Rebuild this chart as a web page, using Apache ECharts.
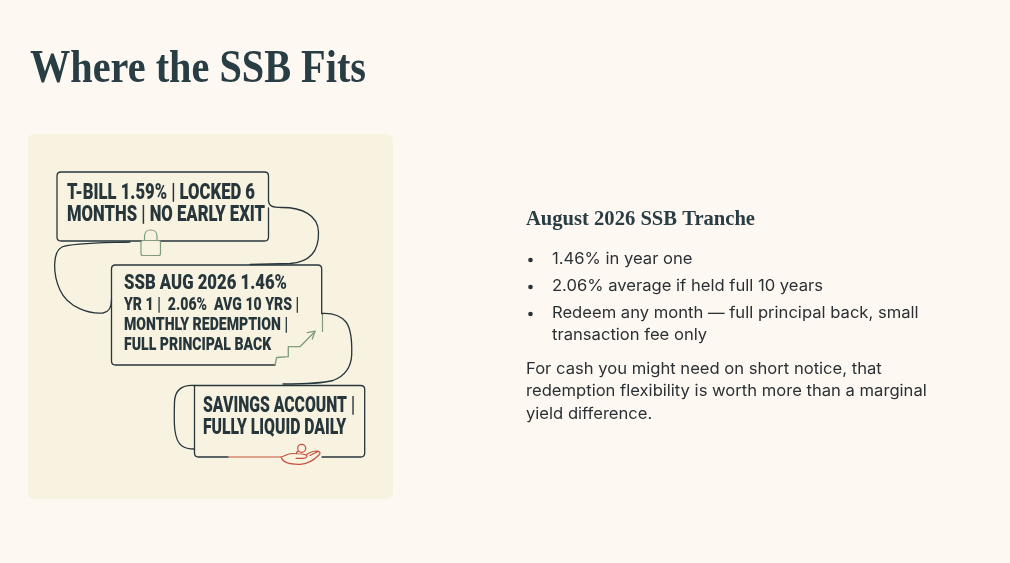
<!DOCTYPE html>
<html>
<head>
<meta charset="utf-8">
<script src="https://cdn.jsdelivr.net/npm/echarts@6/dist/echarts.min.js"></script>
<style>
  html, body { margin: 0; padding: 0; background: #fdf8f2; }
  #main { width: 1010px; height: 563px; }
</style>
</head>
<body>
<div id="main"></div>
<script>
// slide texts
var slideTitle = 'Where the SSB Fits';
var tbillLines = ['T-BILL 1.59% | LOCKED 6', 'MONTHS | NO EARLY EXIT'];
var ssbLines = ['SSB AUG 2026 1.46%', 'YR 1 |  2.06%  AVG 10 YRS |', 'MONTHLY REDEMPTION |', 'FULL PRINCIPAL BACK'];
var savingsLines = ['SAVINGS ACCOUNT |', 'FULLY LIQUID DAILY'];
var sideHeading = 'August 2026 SSB Tranche';
var bullets = [
    ['1.46% in year one'],
    ['2.06% average if held full 10 years'],
    ['Redeem any month \u2014 full principal back, small', 'transaction fee only']
];
var noteLines = [
    'For cash you might need on short notice, that',
    'redemption flexibility is worth more than a marginal',
    'yield difference.'
];

var INK = '#26363b';
var GREEN = '#7f9d78';
var RED = '#c8503f';
var PANEL = '#f8f2e1';

var measureCtx = document.createElement('canvas').getContext('2d');
function textWidth(str, font) {
    measureCtx.font = font;
    return measureCtx.measureText(str).width;
}

var elements = [];
var pathCount = 0;

// condensed poster lettering: a heavy sans squeezed so a reference line hits its drawn width
var posterFont = function(size) { return '900 ' + size + 'px Roboto'; };
function posterBlock(lines, x, ys, size, refLine, refWidth) {
    var sq = refWidth / textWidth(refLine, posterFont(size));
    lines.forEach(function(str, i) {
        elements.push({
            type: 'text', x: x, y: ys[i], scaleX: sq, z: 10,
            style: { text: str, font: posterFont(size), fill: INK, textVerticalAlign: 'middle' }
        });
    });
}

// svg-like stroke: each one registered as its own shape
function ink(d, color, width, fill) {
    var name = 'ink' + (pathCount++);
    echarts.graphic.registerShape(name, echarts.graphic.extendPath(d, {}));
    elements.push({
        type: name, z: fill ? 6 : 5,
        style: { fill: fill || null, stroke: color || INK, lineWidth: width || 1.3, lineCap: 'round', lineJoin: 'round' }
    });
}

// title
var titleFont = 'bold 46px "Liberation Serif"';
elements.push({
    type: 'text', x: 30, y: 70, scaleX: 336 / textWidth(slideTitle, titleFont),
    style: { text: slideTitle, font: titleFont, fill: '#283e44', textVerticalAlign: 'middle' }
});

// illustration panel
elements.push({
    type: 'rect', z: 1,
    shape: { x: 28, y: 134, width: 365, height: 365, r: 6 },
    style: { fill: PANEL }
});

// box 1 : T-bill
ink('M 268.5 201 L 268.5 176 Q 268.5 172 264.5 172 L 61 172 Q 57 172 57 176 L 57 237 Q 57 241 61 241 L 264.5 241 Q 268.5 241 268.5 237 L 268.5 208');
// line leaving box 1 on the right and sweeping into box 2
ink('M 268.5 201 C 269 206 272 207.5 282 207.5 C 302 207.5 318 215 318.5 232 C 319 250 311 262 290 263.5 L 250 264.5');
// line leaving box 1 at the bottom, looping left into box 2
ink('M 130 242 C 100 243 72 243 62 247 C 52 252 53 275 60 290 C 68 308 90 314 103 313 C 109 312 111.5 308 111.5 300');
// lock
ink('M 143 240.5 L 158.5 240.5 Q 160.5 240.5 160.5 242.5 L 160.5 253.5 Q 160.5 255.5 158.5 255.5 L 143 255.5 Q 141 255.5 141 253.5 L 141 242.5 Q 141 240.5 143 240.5 Z', GREEN, 1.2, PANEL);
ink('M 144.5 240.5 L 144.5 236 C 144.5 228 157 228 157 236 L 157 240.5', GREEN, 1.2);
ink('M 149 246 A 1.8 1.8 0 1 0 152.6 246 A 1.8 1.8 0 1 0 149 246 M 150.8 247.8 L 150.8 251.5', GREEN, 1.1);

// box 2 : SSB
ink('M 275 365 L 115.5 365 Q 111.5 365 111.5 361 L 111.5 269 Q 111.5 265 115.5 265 L 317.7 265 Q 321.7 265 321.7 269 L 321.7 313.5');
ink('M 322.5 313.5 L 322.5 331.5', GREEN, 1.2);
ink('M 275 365 L 276.7 357.5 L 288.3 356.7 L 288.3 346.7 L 300 346.7 L 315 331.5', GREEN, 1.3);
ink('M 307.3 332.7 L 315 331.2 L 312.3 339', GREEN, 1.3);
// line from box 2 right side down to box 3
ink('M 321.7 313.5 C 330 313 340 315 346 322 C 352 330 352 345 351.7 355 C 351 368 345 376 333 380.5 C 320 384 300 384 283 384');

// box 3 : savings
ink('M 228 457 L 198.5 457 Q 194.5 457 194.5 453 L 194.5 385.5 L 360.7 385.5 Q 364.7 385.5 364.7 389.5 L 364.7 453 Q 364.7 457 360.7 457 L 322 457');
ink('M 194.5 385.5 C 182 384.5 175 390 174.5 402 C 174 420 173 440 182 446 C 186 449 190 449 194.5 449');
ink('M 228 457 L 281 457', RED, 1.2);
// open hand with coin
ink('M 281 457 C 284 457 287 453.5 292 453.5 C 298 453.5 303 454 306 455 C 308 456.2 306.5 458.3 303 458.3 L 296 458.3 M 281.5 458 C 283 462 290 464.5 300 464.3 C 308 464 314 460 319 455 C 321 453 320 451 317 452 L 310 455.5 M 306 455 C 310 452 314 450.8 318 451', RED, 1.2);
ink('M 297.7 448.3 A 4 4 0 1 0 305.7 448.3 A 4 4 0 1 0 297.7 448.3 Z M 298.5 451 C 296.5 452 296 453 296.5 453.5', RED, 1.2);

// poster lettering
posterBlock(tbillLines, 67, [193.7, 215.5], 22.5, tbillLines[0], 188);
posterBlock(ssbLines.slice(0, 1), 124, [283.7], 19.7, ssbLines[0], 163);
posterBlock(ssbLines.slice(1), 124, [305.5, 326, 346], 17.8, ssbLines[2], 164);
posterBlock(savingsLines, 203, [406.5, 429], 21.8, savingsLines[0], 152);

// right column
var headFont = 'bold 21px "Liberation Serif"';
elements.push({
    type: 'text', x: 526, y: 220, scaleX: 229 / textWidth(sideHeading, headFont),
    style: { text: sideHeading, font: headFont, fill: '#283e44', textVerticalAlign: 'middle' }
});

var bodyFont = '16px Inter';
var bodyScale = 271 / textWidth(bullets[1][0], bodyFont);
var bulletRows = [[259], [286], [313, 335]];
bullets.forEach(function(item, i) {
    elements.push({
        type: 'circle', shape: { cx: 530.5, cy: bulletRows[i][0] + 1, r: 2.3 },
        style: { fill: '#2b3035' }
    });
    item.forEach(function(line, j) {
        elements.push({
            type: 'text', x: 552, y: bulletRows[i][j], scaleX: bodyScale,
            style: { text: line, font: bodyFont, fill: '#2b3035', textVerticalAlign: 'middle' }
        });
    });
});
noteLines.forEach(function(line, i) {
    elements.push({
        type: 'text', x: 526, y: 369 + i * 22.5, scaleX: bodyScale,
        style: { text: line, font: bodyFont, fill: '#2b3035', textVerticalAlign: 'middle' }
    });
});

var chart = echarts.init(document.getElementById('main'), null, { renderer: 'canvas' });
chart.setOption({
    backgroundColor: '#fdf8f2',
    animation: false,
    graphic: { elements: elements }
});
</script>
</body>
</html>
